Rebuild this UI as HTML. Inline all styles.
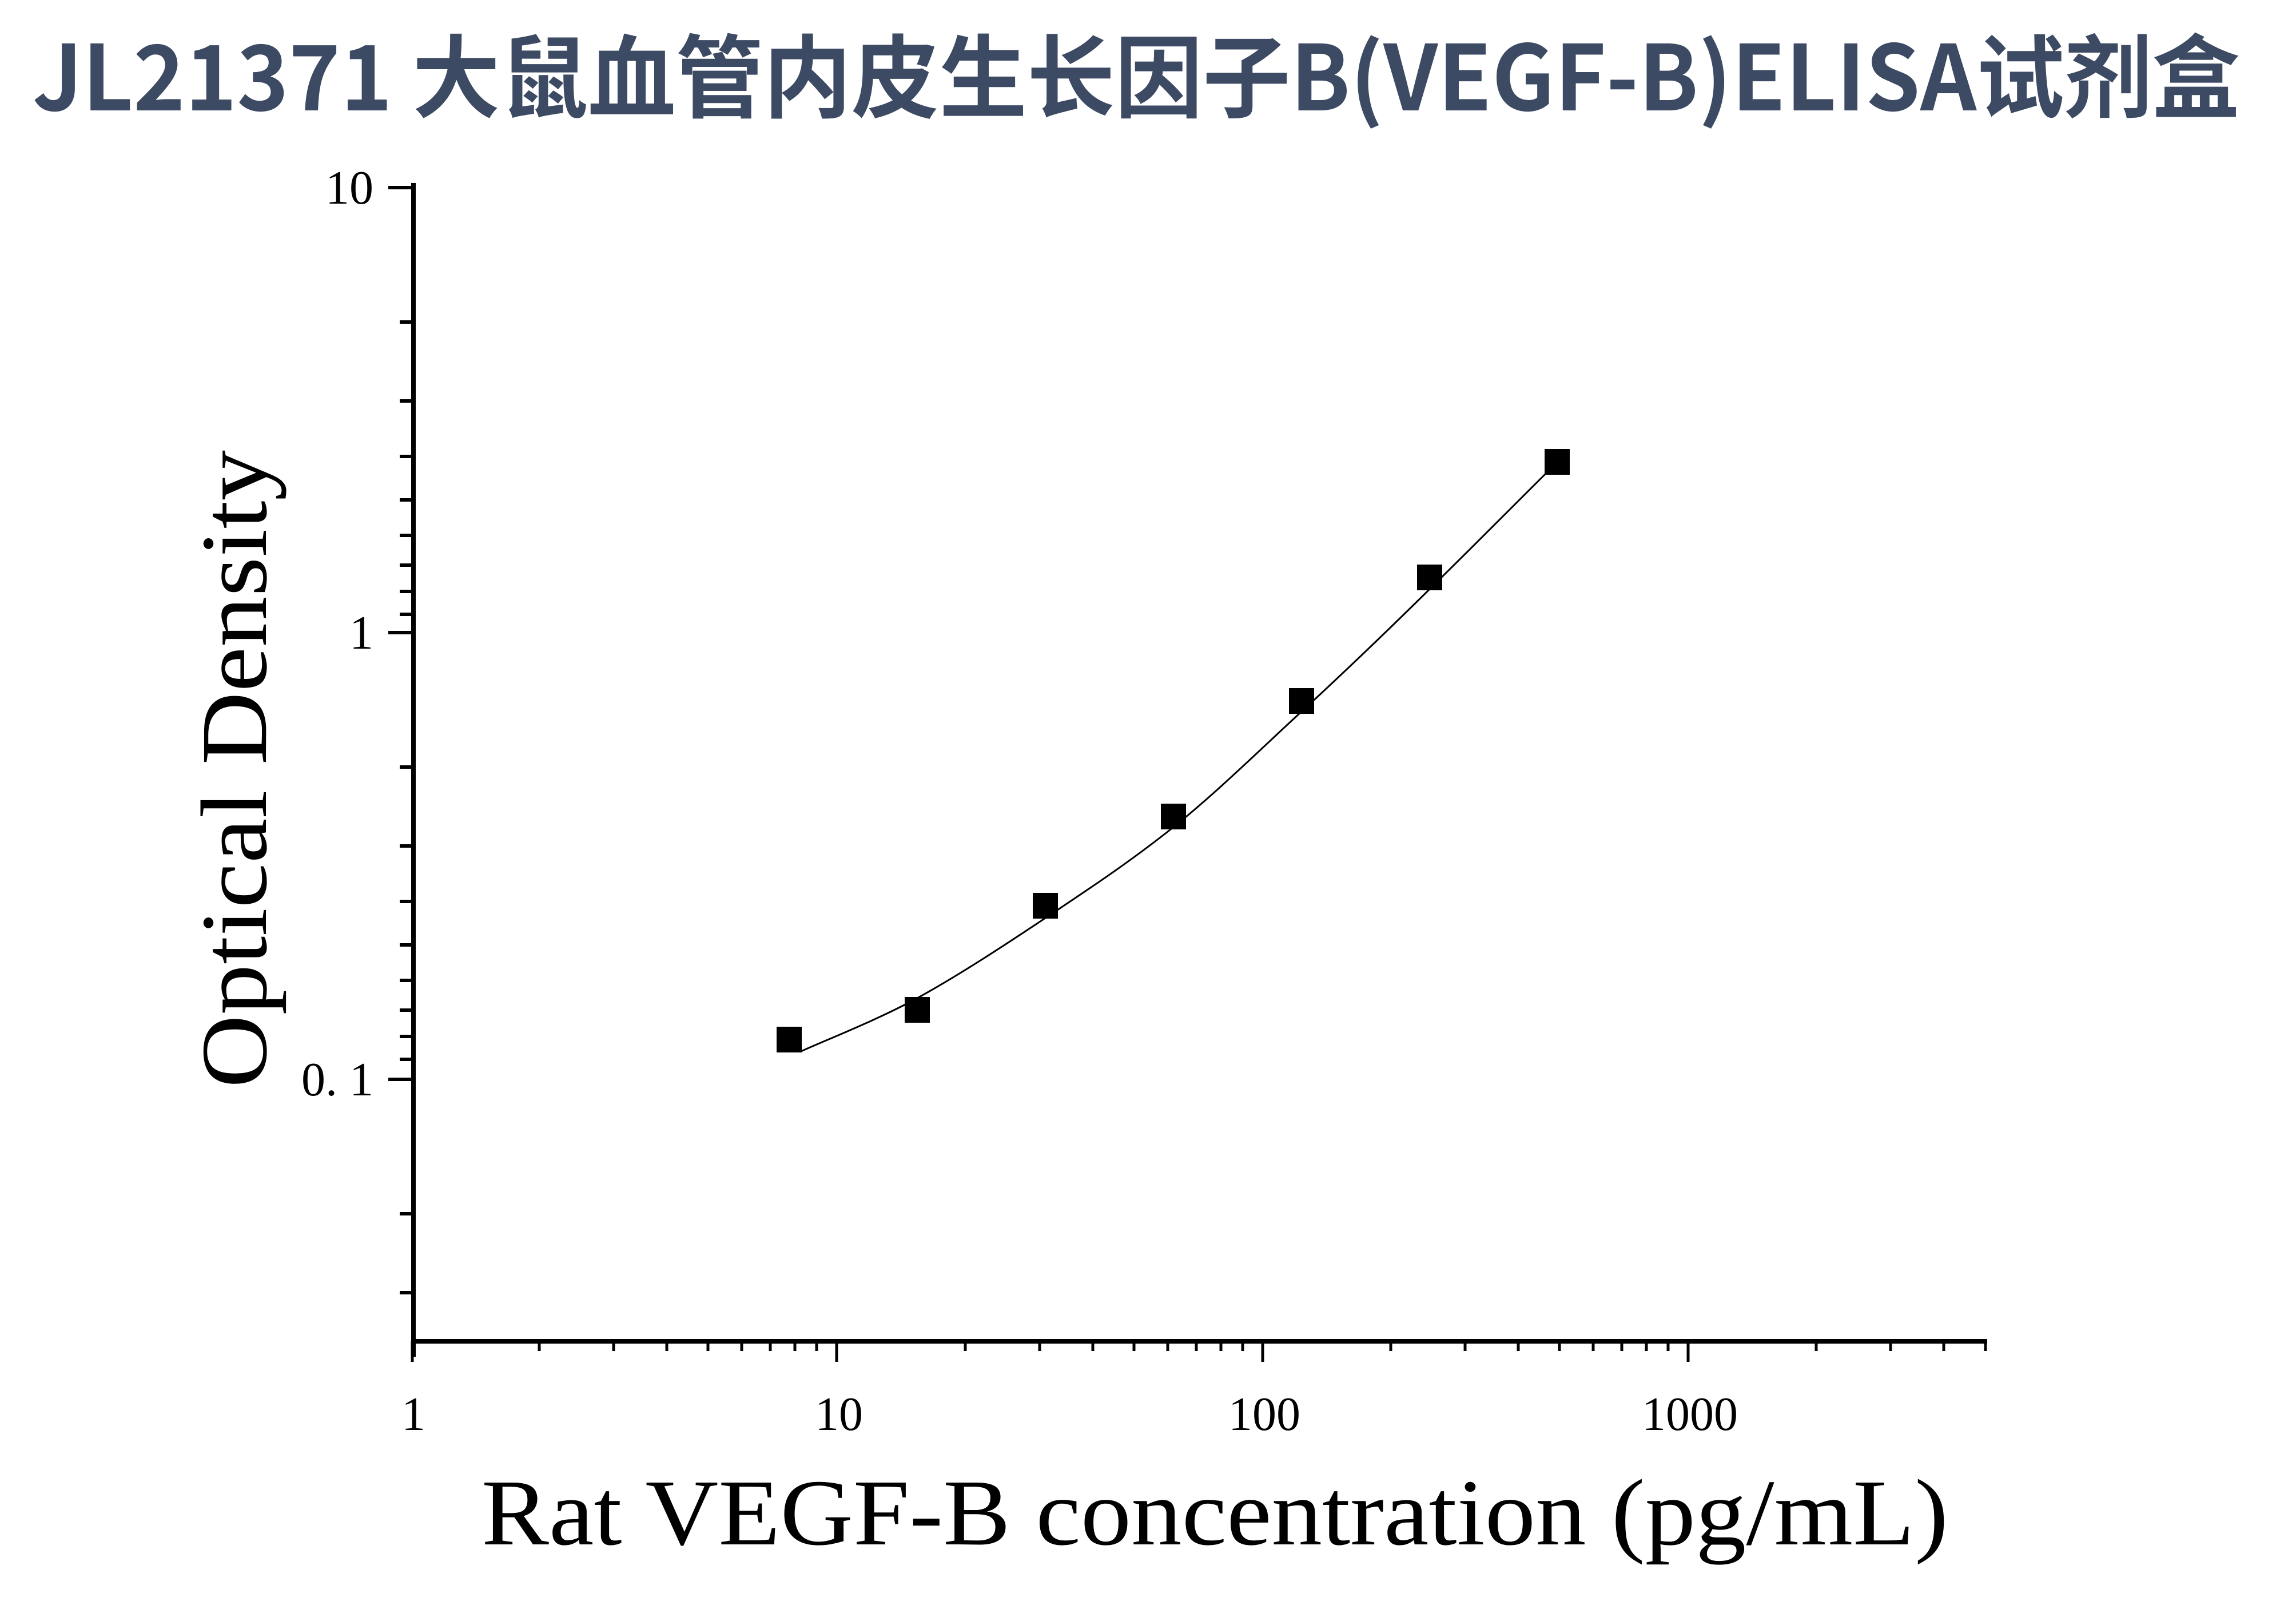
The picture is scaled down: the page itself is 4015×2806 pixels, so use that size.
<!DOCTYPE html>
<html><head><meta charset="utf-8"><style>
html,body{margin:0;padding:0;background:#fff;}
svg{display:block;}
</style></head><body>
<svg width="4015" height="2806" viewBox="0 0 4015 2806" xmlns="http://www.w3.org/2000/svg">
<rect width="4015" height="2806" fill="#fff"/>
<text x="57" y="193" font-family="'Noto Sans CJK SC', 'Liberation Sans', sans-serif" font-weight="bold" font-size="158" fill="#3d4a63" textLength="3860" lengthAdjust="spacingAndGlyphs">JL21371 大鼠血管内皮生长因子B(VEGF-B)ELISA试剂盒</text>
<g stroke="#000" fill="none">
<line x1="723" y1="320" x2="723" y2="2372" stroke-width="8"/>
<line x1="719" y1="2345" x2="3475" y2="2345" stroke-width="8"/>
<path stroke-width="6" d="
M679 328H723 M679 1106H723 M679 1887H723
M699 563H723 M699 701H723 M699 798H723 M699 874H723 M699 936H723 M699 988H723 M699 1034H723 M699 1074H723
M699 1341H723 M699 1479H723 M699 1576H723 M699 1652H723 M699 1714H723 M699 1766H723 M699 1812H723 M699 1852H723
M699 2122H723 M699 2260H723
"/>
<path stroke-width="5" d="
M721 2345V2381 M1463 2345V2381 M2208 2345V2381 M2952 2345V2381
M943 2345V2362 M1073 2345V2362 M1166 2345V2362 M1238 2345V2362 M1297 2345V2362 M1347 2345V2362 M1390 2345V2362 M1428 2345V2362
M1688 2345V2362 M1818 2345V2362 M1911 2345V2362 M1983 2345V2362 M2042 2345V2362 M2092 2345V2362 M2135 2345V2362 M2173 2345V2362
M2432 2345V2362 M2562 2345V2362 M2655 2345V2362 M2727 2345V2362 M2786 2345V2362 M2836 2345V2362 M2879 2345V2362 M2917 2345V2362
M3176 2345V2362 M3306 2345V2362 M3399 2345V2362 M3472 2345V2362
"/>
<path stroke-width="3" d="M1401 1838 C1435 1822 1533 1784 1604 1745 C1675 1706 1753 1655 1828 1605 C1903 1555 1977 1506 2052 1446 C2127 1386 2201 1313 2276 1244 C2351 1175 2429 1100 2500 1030 C2571 960 2670 861 2704 827"/>
</g>
<g fill="#000">
<rect x="1358" y="1795" width="44" height="45"/>
<rect x="1582" y="1743" width="44" height="45"/>
<rect x="1806" y="1561" width="44" height="45"/>
<rect x="2030" y="1405" width="44" height="45"/>
<rect x="2254" y="1203" width="44" height="45"/>
<rect x="2478" y="987" width="44" height="45"/>
<rect x="2701" y="785" width="44" height="45"/>
</g>
<g font-family="'Liberation Serif', serif" font-size="84" fill="#000">
<text x="653" y="356" text-anchor="end">10</text>
<text x="653" y="1134" text-anchor="end">1</text>
<text x="653" y="1915" text-anchor="end">0. 1</text>
<text x="723" y="2500" text-anchor="middle">1</text>
<text x="1467" y="2500" text-anchor="middle">10</text>
<text x="2211" y="2500" text-anchor="middle">100</text>
<text x="2955" y="2500" text-anchor="middle">1000</text>
</g>
<text x="842" y="2700" font-family="'Liberation Serif', serif" font-size="165" fill="#000" textLength="2565" lengthAdjust="spacingAndGlyphs">Rat VEGF-B concentration (pg/mL)</text>
<text transform="translate(465,1902) rotate(-90)" x="0" y="0" font-family="'Liberation Serif', serif" font-size="165" fill="#000" textLength="1115" lengthAdjust="spacingAndGlyphs">Optical Density</text>
</svg>
</body></html>
